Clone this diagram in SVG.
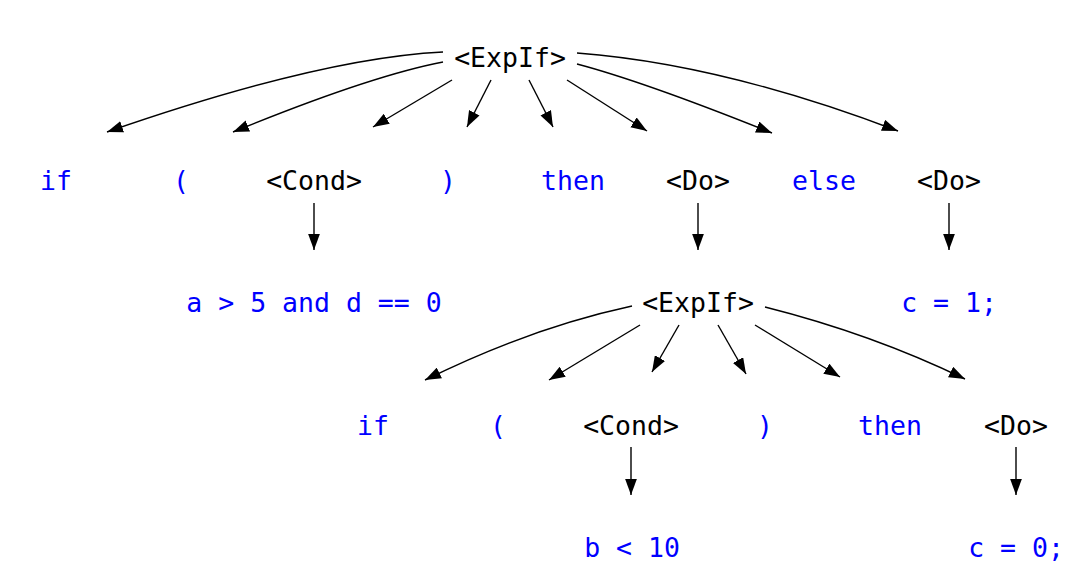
<svg xmlns="http://www.w3.org/2000/svg" width="1080" height="576" viewBox="0 0 1080 576">
<style>
text{font-family:"DejaVu Sans Mono","Liberation Mono",monospace;font-size:26.5px;text-anchor:middle}
.t{fill:#0000ff}
.n{fill:#000}
.e path{fill:none;stroke:#000;stroke-width:1.4;marker-end:url(#ah)}
</style>
<defs>
<marker id="ah" markerUnits="userSpaceOnUse" markerWidth="16" markerHeight="12" viewBox="0 0 15 11" refX="15" refY="5.5" orient="auto">
<path d="M0,0 L15,5.5 L0,11 z" fill="#000"/>
</marker>
</defs>
<rect width="1080" height="576" fill="#fff"/>
<g class="e" id="connectors">
<path d="M443,52 Q320,58 107,132"/>
<path d="M443,62 Q370,76 233,132"/>
<path d="M452,80 L373,127"/>
<path d="M491,80 L467,127"/>
<path d="M529,80 L553,127"/>
<path d="M567,80 L647,131"/>
<path d="M577,64 Q645,82 772,133"/>
<path d="M577,53 Q722,64 898,131"/>
<path d="M314,203 L314,250"/>
<path d="M698,203 L698,250"/>
<path d="M949,203 L949,250"/>
<path d="M632,306 Q530,328 425,380"/>
<path d="M640,325 L549,380"/>
<path d="M679,325 L652,372"/>
<path d="M718,325 L746,374"/>
<path d="M755,325 L840,377"/>
<path d="M765,307 Q872,334 965,379"/>
<path d="M631,447 L631,495"/>
<path d="M1016,447 L1016,495"/>
</g>
<g id="n_expif1"><text class="n" x="510" y="67">&lt;ExpIf&gt;</text></g>
<g id="n_if1"><text class="t" x="56" y="190">if</text></g>
<g id="n_lp1"><text class="t" x="181" y="190">(</text></g>
<g id="n_cond1"><text class="n" x="314" y="190">&lt;Cond&gt;</text></g>
<g id="n_rp1"><text class="t" x="448" y="190">)</text></g>
<g id="n_then1"><text class="t" x="573" y="190">then</text></g>
<g id="n_do1"><text class="n" x="698" y="190">&lt;Do&gt;</text></g>
<g id="n_else1"><text class="t" x="824" y="190">else</text></g>
<g id="n_do2"><text class="n" x="949" y="190">&lt;Do&gt;</text></g>
<g id="n_cond1v"><text class="t" x="314" y="312">a &gt; 5 and d == 0</text></g>
<g id="n_expif2"><text class="n" x="698" y="312">&lt;ExpIf&gt;</text></g>
<g id="n_c1"><text class="t" x="949" y="312">c = 1;</text></g>
<g id="n_if2"><text class="t" x="373" y="435">if</text></g>
<g id="n_lp2"><text class="t" x="498" y="435">(</text></g>
<g id="n_cond2"><text class="n" x="631" y="435">&lt;Cond&gt;</text></g>
<g id="n_rp2"><text class="t" x="765" y="435">)</text></g>
<g id="n_then2"><text class="t" x="890" y="435">then</text></g>
<g id="n_do3"><text class="n" x="1016" y="435">&lt;Do&gt;</text></g>
<g id="n_cond2v"><text class="t" x="632" y="557">b &lt; 10</text></g>
<g id="n_c0"><text class="t" x="1016" y="557">c = 0;</text></g>
</svg>
